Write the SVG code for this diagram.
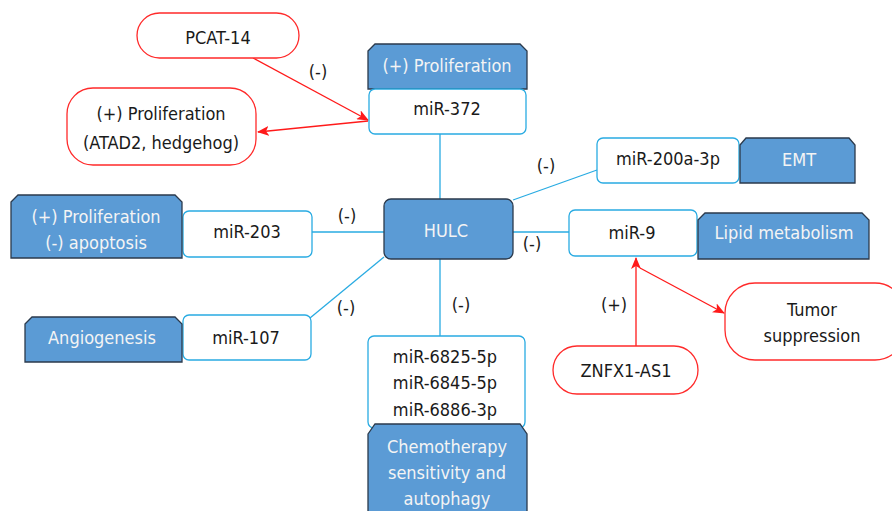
<svg xmlns="http://www.w3.org/2000/svg" width="892" height="511" viewBox="0 0 892 511">
<style>
text{font-family:"DejaVu Sans Condensed","DejaVu Sans","Liberation Sans",sans-serif;font-stretch:condensed;font-size:18px;text-anchor:middle;fill:#1a1a1a}
.w{fill:#f4f4f4}
.blue{fill:#5b9bd5;stroke:#2b3a4c;stroke-width:1.3}
.mir{fill:#fff;stroke:#29abe2;stroke-width:1.3}
.pill{fill:#fff;stroke:#ff2a2a;stroke-width:1.3}
.c{stroke:#29abe2;stroke-width:1.3;fill:none}
.r{stroke:#ff1a1a;stroke-width:1.3;fill:none;marker-end:url(#ah)}
</style>
<defs>
<marker id="ah" viewBox="0 0 12 10" refX="11" refY="5" markerWidth="12" markerHeight="10" markerUnits="userSpaceOnUse" orient="auto">
<path d="M0,0 L12,5 L0,10 L3,5 Z" fill="#ff1a1a"/>
</marker>
</defs>
<g id="connectors">
<line class="c" x1="440" y1="134" x2="440" y2="200"/>
<line class="c" x1="513" y1="200" x2="597" y2="170"/>
<line class="c" x1="513" y1="232" x2="569" y2="232"/>
<line class="c" x1="312" y1="232" x2="384" y2="232"/>
<line class="c" x1="310" y1="318" x2="384" y2="257"/>
<line class="c" x1="440" y1="259" x2="440" y2="336"/>
<line class="r" x1="253" y1="58" x2="368" y2="120"/>
<line class="r" x1="368" y1="121" x2="258" y2="132"/>
<line class="r" x1="636" y1="346" x2="636" y2="258"/>
<line class="r" x1="640" y1="268" x2="724" y2="313"/>
<text x="318" y="78">(-)</text>
<text x="546" y="172">(-)</text>
<text x="532" y="250">(-)</text>
<text x="347" y="222">(-)</text>
<text x="346" y="314">(-)</text>
<text x="461" y="311">(-)</text>
<text x="614" y="311">(+)</text>
</g>
<g id="pcat14">
<rect class="pill" x="137" y="13" width="162" height="45" rx="22.5"/>
<text x="218" y="44">PCAT-14</text>
</g>
<g id="prolif-atad2">
<rect class="pill" x="67" y="88" width="189" height="77" rx="26"/>
<text x="161" y="120">(+) Proliferation</text>
<text x="161" y="149">(ATAD2, hedgehog)</text>
</g>
<g id="prolif-372">
<path class="blue" d="M368,51 L375,44 L520,44 L527,51 L527,89 L368,89 Z"/>
<text class="w" x="447" y="72">(+) Proliferation</text>
</g>
<g id="mir372">
<rect class="mir" x="369" y="89" width="157" height="45" rx="6"/>
<text x="447" y="115">miR-372</text>
</g>
<g id="hulc">
<rect class="blue" x="384" y="199" width="129" height="60" rx="7"/>
<text class="w" x="446" y="237">HULC</text>
</g>
<g id="mir200a">
<rect class="mir" x="597" y="138" width="142" height="45" rx="6"/>
<text x="668" y="165">miR-200a-3p</text>
</g>
<g id="emt">
<path class="blue" d="M740,145 L746,138 L849,138 L855,145 L855,183 L740,183 Z"/>
<text class="w" x="799" y="166">EMT</text>
</g>
<g id="mir9">
<rect class="mir" x="569" y="210" width="128" height="46" rx="6"/>
<text x="632" y="239">miR-9</text>
</g>
<g id="lipid">
<path class="blue" d="M698,220 L705,213 L862,213 L869,220 L869,259 L698,259 Z"/>
<text class="w" x="784" y="239">Lipid metabolism</text>
</g>
<g id="mir203">
<rect class="mir" x="183" y="211" width="129" height="46" rx="6"/>
<text x="247" y="238">miR-203</text>
</g>
<g id="prolif-apop">
<path class="blue" d="M11,202 L18,195 L175,195 L182,202 L182,258 L11,258 Z"/>
<text class="w" x="96" y="223">(+) Proliferation</text>
<text class="w" x="96" y="249">(-) apoptosis</text>
</g>
<g id="mir107">
<rect class="mir" x="183" y="315" width="128" height="45" rx="6"/>
<text x="246" y="344">miR-107</text>
</g>
<g id="angio">
<path class="blue" d="M25,324 L32,317 L175,317 L182,324 L182,362 L25,362 Z"/>
<text class="w" x="102" y="344">Angiogenesis</text>
</g>
<g id="mir6825">
<rect class="mir" x="368" y="336" width="157" height="92" rx="6"/>
<text x="445" y="363">miR-6825-5p</text>
<text x="445" y="389">miR-6845-5p</text>
<text x="445" y="416">miR-6886-3p</text>
</g>
<g id="chemo">
<path class="blue" d="M368,434 L375,424 L520,424 L527,434 L527,512 L368,512 Z"/>
<text class="w" x="447" y="453">Chemotherapy</text>
<text class="w" x="447" y="479">sensitivity and</text>
<text class="w" x="447" y="505">autophagy</text>
</g>
<g id="znfx1">
<rect class="pill" x="553" y="346" width="145" height="48" rx="24"/>
<text x="626" y="377">ZNFX1-AS1</text>
</g>
<g id="tumor">
<rect class="pill" x="725" y="283" width="180" height="77" rx="30"/>
<text x="812" y="316">Tumor</text>
<text x="812" y="342">suppression</text>
</g>
</svg>
